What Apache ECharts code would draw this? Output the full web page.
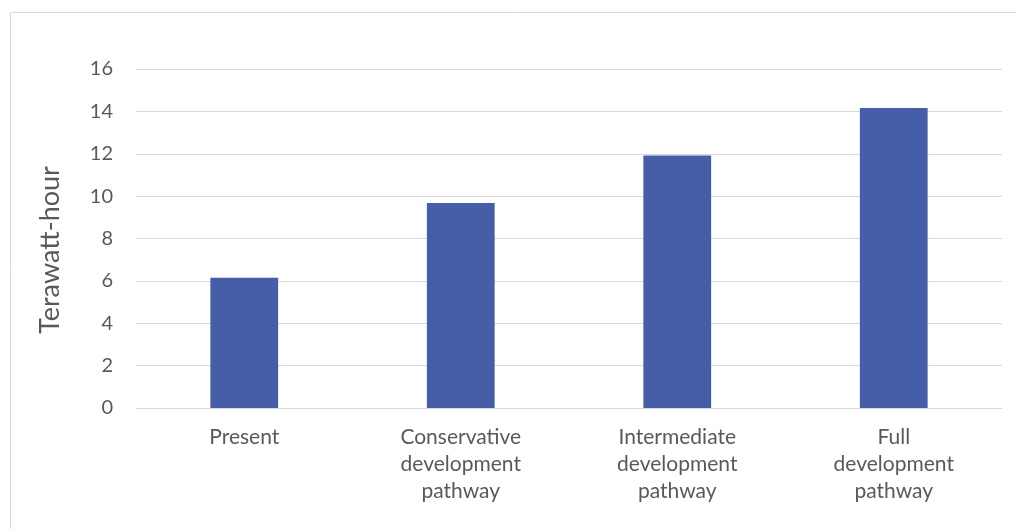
<!DOCTYPE html>
<html>
<head>
<meta charset="utf-8">
<style>
  html, body { margin: 0; padding: 0; background: #fff; }
  #chart { width: 1016px; height: 529px; }
</style>
<script src="https://cdn.jsdelivr.net/npm/echarts@6/dist/echarts.min.js"></script>
</head>
<body>
<div id="chart"></div>
<script>
const categories = ["Present", "Conservative\ndevelopment\npathway", "Intermediate\ndevelopment\npathway", "Full\ndevelopment\npathway"];
const values = [6.15, 9.67, 11.92, 14.16];
const yTicks = [0, 2, 4, 6, 8, 10, 12, 14, 16];
const yTitle = "Terawatt-hour";

const chart = echarts.init(document.getElementById('chart'), null, { renderer: 'canvas' });
const FONT = 'Lato';
chart.setOption({
  animation: false,
  backgroundColor: '#ffffff',
  graphic: [
    { type: 'rect', shape: { x: 10.5, y: 12.5, width: 1200, height: 700 },
      style: { fill: 'none', stroke: '#d9d9d9', lineWidth: 1 }, silent: true, z: -1 },
    { type: 'text', x: 50, y: 250, rotation: Math.PI / 2,
      style: { text: yTitle, fill: '#595959', font: '27px ' + FONT, textAlign: 'center', textVerticalAlign: 'middle' } }
  ],
  grid: { left: 136, right: 14, top: 69, bottom: 121, containLabel: false },
  xAxis: {
    type: 'category',
    data: categories,
    axisLine: { show: true, lineStyle: { color: '#d9d9d9', width: 1 } },
    axisTick: { show: false },
    axisLabel: { color: '#595959', fontFamily: FONT, fontSize: 21, lineHeight: 27, margin: 16, interval: 0 }
  },
  yAxis: {
    type: 'value',
    min: yTicks[0],
    max: yTicks[yTicks.length - 1],
    interval: 2,
    axisLine: { show: false },
    axisTick: { show: false },
    splitLine: { lineStyle: { color: '#d9d9d9', width: 1 } },
    axisLabel: { color: '#595959', fontFamily: FONT, fontSize: 20, margin: 23 }
  },
  series: [{
    type: 'bar',
    data: values,
    barWidth: '31.3%',
    itemStyle: { color: '#465DA8' }
  }]
});
</script>
</body>
</html>
